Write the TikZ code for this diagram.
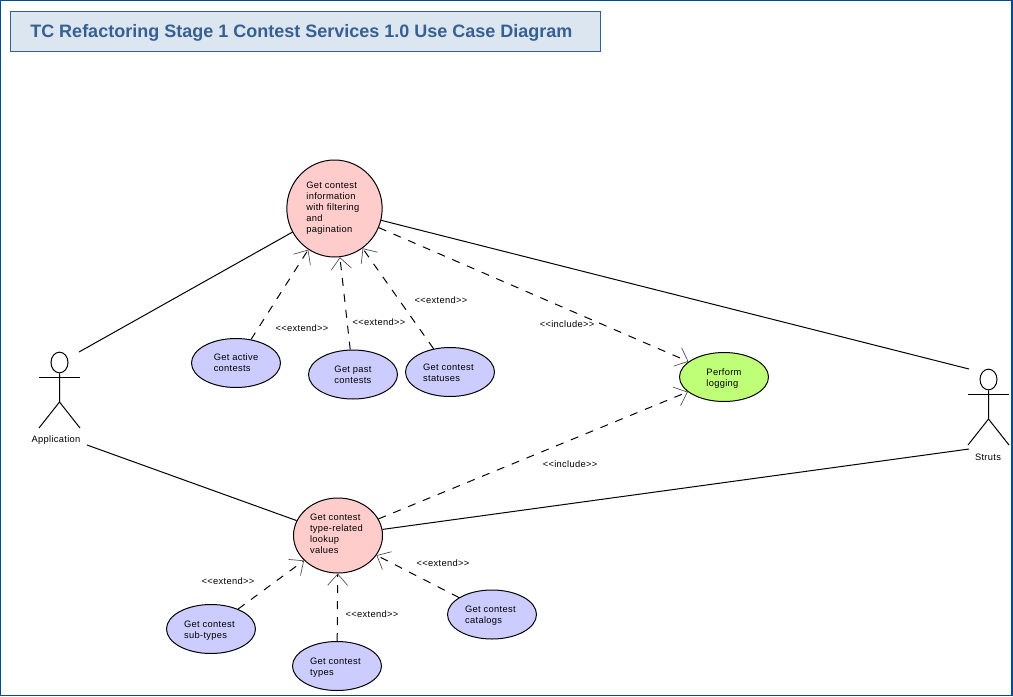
\documentclass[tikz,border=0pt]{standalone}
\usepackage{fontspec}
\setmainfont[LetterSpace=3.3]{Liberation Sans}
\newfontfamily\titlefont{Liberation Sans}
\usetikzlibrary{shapes.geometric,arrows.meta}
\definecolor{framec}{HTML}{004C99}
\definecolor{titlefill}{HTML}{DCE6F1}
\definecolor{titlec}{HTML}{366092}
\definecolor{pinkuc}{HTML}{FFCCCC}
\definecolor{blueuc}{HTML}{CCCCFF}
\definecolor{greenuc}{HTML}{BFFF78}
\tikzset{
  x=0.75pt,y=-0.75pt,
  every node/.style={font=\fontsize{7pt}{8.25pt}\selectfont,text=black},
  usecase/.style={ellipse,draw=black,line width=0.75pt,inner sep=0pt,minimum width=66.75pt,minimum height=36.75pt},
  bluecase/.style={usecase,fill=blueuc},
  pinkcase/.style={usecase,fill=pinkuc},
  greencase/.style={usecase,fill=greenuc},
  casetext/.style n args={3}{label={[align=left,inner sep=0pt,xshift=#2,yshift=#3]center:#1}},
  assoc/.style={draw=black,line width=0.75pt},
  depend/.style={draw=black,line width=0.75pt,dash pattern=on 6pt off 6pt,
    -{Straight Barb[length=8.5pt,width=15pt,line width=0.5pt,color=black!70]}},
  stereo/.style={inner sep=0pt},
  actorpart/.style={draw=black,line width=0.75pt},
}
\begin{document}
\begin{tikzpicture}
\useasboundingbox (0,0) rectangle (1013,696);
\draw[framec,line width=1.1pt] (0.7,0.7) rectangle (1012,695.3);
\node[draw=titlec,fill=titlefill,line width=0.75pt,minimum width=442.75pt,minimum height=30.25pt,inner sep=0pt] (titlebox) at (305.7,31.5) {};
\node[inner sep=0pt,anchor=west,text=titlec,font=\titlefont\fontsize{13.5pt}{15pt}\selectfont\bfseries] (titletext) at (30,32.5) {TC Refactoring Stage 1 Contest Services 1.0 Use Case Diagram};

% use cases
\node[pinkcase,minimum width=71.5pt,minimum height=72.75pt,casetext={Get contest\\information\\with filtering\\and\\pagination}{-1.2pt}{0pt}] (info) at (334.5,208.5) {};
\node[pinkcase,minimum height=56.25pt,casetext={Get contest\\type-related\\lookup\\values}{-1.2pt}{1.5pt}] (lookup) at (338,535.5) {};
\node[bluecase,casetext={Get active\\contests}{0pt}{0pt}] (active) at (236,363) {};
\node[bluecase,casetext={Get past\\contests}{0pt}{0pt}] (past) at (353,374.5) {};
\node[bluecase,casetext={Get contest\\statuses}{-1.2pt}{-0.4pt}] (statuses) at (450,372) {};
\node[greencase,casetext={Perform\\logging}{0pt}{-1.2pt}] (logging) at (724,377) {};
\node[bluecase,casetext={Get contest\\sub-types}{-1.2pt}{-1.1pt}] (subtypes) at (211,629) {};
\node[bluecase,casetext={Get contest\\types}{-1.2pt}{-1.1pt}] (types) at (337,666) {};
\node[bluecase,casetext={Get contest\\catalogs}{-1.2pt}{-1.1pt}] (catalogs) at (492,614.5) {};

% actors
\node[ellipse,draw=black,line width=0.75pt,minimum width=12.75pt,minimum height=15.5pt,inner sep=0pt] (apphead) at (59.5,362.5) {};
\coordinate (apphip) at (59.5,402);
\coordinate (apparml) at (39,377);
\coordinate (apparmr) at (80,377);
\coordinate (applegl) at (39,428);
\coordinate (applegr) at (80,428);
\draw[actorpart] (apphead.south) -- (apphip) -- (applegl);
\draw[actorpart] (apphip) -- (applegr);
\draw[actorpart] (apparml) -- (apparmr);
\node[stereo] (applabel) at (56,440) {Application};

\node[ellipse,draw=black,line width=0.75pt,minimum width=12.75pt,minimum height=15.5pt,inner sep=0pt] (strhead) at (988.5,379.5) {};
\coordinate (strhip) at (988.5,419);
\coordinate (strarml) at (968,394);
\coordinate (strarmr) at (1009,394);
\coordinate (strlegl) at (968,445);
\coordinate (strlegr) at (1009,445);
\draw[actorpart] (strhead.south) -- (strhip) -- (strlegl);
\draw[actorpart] (strhip) -- (strlegr);
\draw[actorpart] (strarml) -- (strarmr);
\node[stereo] (strlabel) at (988,457) {Struts};

% free ends of associations
\coordinate (appA) at (79,352);
\coordinate (appB) at (87,445);
\coordinate (strA) at (969,369);
\coordinate (strB) at (969,449);

\draw[assoc] (appA) -- (info);
\draw[assoc] (appB) -- (lookup);
\draw[assoc] (strA) -- (info);
\draw[assoc] (strB) -- (lookup);

% dependencies
\draw[depend] (active) -- (info);
\draw[depend] (past) -- (info);
\draw[depend] (statuses) -- (info);
\draw[depend] (info) -- (logging);
\draw[depend] (lookup) -- (logging);
\draw[depend] (subtypes) -- (lookup);
\draw[depend] (types) -- (lookup);
\draw[depend] (catalogs) -- (lookup);

% stereotypes
\node[stereo] (s1) at (302,328) {<{}<extend>{}>};
\node[stereo] (s2) at (379,322) {<{}<extend>{}>};
\node[stereo] (s3) at (441,300.5) {<{}<extend>{}>};
\node[stereo] (s4) at (567,324) {<{}<include>{}>};
\node[stereo] (s5) at (570,464) {<{}<include>{}>};
\node[stereo] (s6) at (228,581) {<{}<extend>{}>};
\node[stereo] (s7) at (372,614) {<{}<extend>{}>};
\node[stereo] (s8) at (443,563) {<{}<extend>{}>};
\end{tikzpicture}
\end{document}
